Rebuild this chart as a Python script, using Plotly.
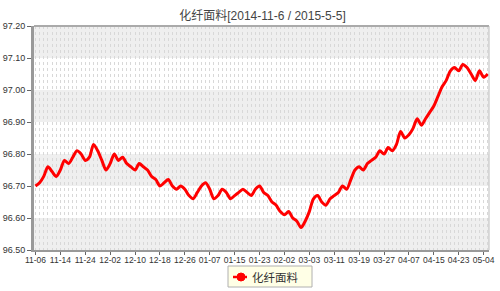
import plotly.graph_objects as go

title_text = "化纤面料[2014-11-6 / 2015-5-5]"
series_name = "化纤面料"

values = [
    96.70, 96.71, 96.73, 96.76, 96.745, 96.73, 96.75, 96.78, 96.77, 96.79,
    96.81, 96.80, 96.78, 96.79, 96.83, 96.81, 96.78, 96.75, 96.77, 96.80,
    96.78, 96.79, 96.77, 96.76, 96.75, 96.77, 96.76, 96.75, 96.73, 96.72,
    96.70, 96.71, 96.72, 96.70, 96.69, 96.70, 96.69, 96.67, 96.66, 96.68,
    96.70, 96.71, 96.69, 96.66, 96.67, 96.69, 96.68, 96.66, 96.67, 96.68,
    96.69, 96.68, 96.67, 96.69, 96.70, 96.68, 96.67, 96.65, 96.64, 96.62,
    96.61, 96.62, 96.60, 96.59, 96.57, 96.59, 96.62, 96.66, 96.67, 96.65,
    96.64, 96.66, 96.67, 96.68, 96.70, 96.69, 96.72, 96.75, 96.76, 96.75,
    96.77, 96.78, 96.79, 96.81, 96.80, 96.82, 96.81, 96.83, 96.87, 96.85,
    96.86, 96.88, 96.91, 96.89, 96.91, 96.93, 96.95, 96.98, 97.01, 97.03,
    97.06, 97.07, 97.06, 97.08, 97.07, 97.05, 97.03, 97.06, 97.04, 97.05,
]

tick_labels = ['11-06', '11-14', '11-24', '12-02', '12-10', '12-18', '12-26',
               '01-07', '01-15', '01-23', '02-02', '03-03', '03-11', '03-19',
               '03-27', '04-07', '04-15', '04-23', '05-04']
tick_step = 6

y_ticks = [96.50, 96.60, 96.70, 96.80, 96.90, 97.00, 97.10, 97.20]

x = list(range(len(values)))
tickvals = [i * tick_step for i in range(len(tick_labels))]

W, H = 500, 291
ML, MR, MT, MB = 34, 11, 26, 41
PW, PH = W - ML - MR, H - MT - MB


def px_x(p):
    return (p - ML) / PW


def px_y(p):
    return (H - MB - p) / PH


fig = go.Figure()
fig.add_trace(go.Scatter(
    x=x, y=values, mode='lines', name=series_name,
    line=dict(color='#ff0000', width=3, shape='spline', smoothing=0.8),
    showlegend=False,
))

shapes = []
for k in range(len(y_ticks) - 1):
    if k % 2 == 0:
        shapes.append(dict(type='rect', xref='paper', yref='y', x0=0, x1=1,
                           y0=y_ticks[k], y1=y_ticks[k + 1],
                           fillcolor='#efefef', line=dict(width=0), layer='below'))

# plot border (top and right)
shapes.append(dict(type='line', xref='paper', yref='paper', x0=0, x1=1, y0=1, y1=1,
                   line=dict(color='#aaaaaa', width=2)))
shapes.append(dict(type='line', xref='paper', yref='paper', x0=1, x1=1, y0=0, y1=1,
                   line=dict(color='#bbbbbb', width=1)))

# legend box
shapes.append(dict(type='rect', xref='paper', yref='paper',
                   x0=px_x(228), x1=px_x(312), y0=px_y(287), y1=px_y(266),
                   fillcolor='#ffffe6', line=dict(color='#b0b0b0', width=1)))
# legend icon: short red line + dot
shapes.append(dict(type='line', xref='paper', yref='paper',
                   x0=px_x(233), x1=px_x(247), y0=px_y(277), y1=px_y(277),
                   line=dict(color='#ff0000', width=2.5)))
shapes.append(dict(type='circle', xref='paper', yref='paper',
                   x0=px_x(237), x1=px_x(245), y0=px_y(281), y1=px_y(273),
                   fillcolor='#ff0000', line=dict(color='#ff0000', width=1)))

fig.update_layout(
    width=W, height=H,
    margin=dict(l=ML, r=MR, t=MT, b=MB, autoexpand=False),
    paper_bgcolor='white', plot_bgcolor='rgba(0,0,0,0)',
    title=dict(text=title_text, x=0.525, xanchor='center', y=0.96, yanchor='top',
               font=dict(family='Liberation Sans, Noto Sans CJK SC', size=12, color='#444')),
    font=dict(family='Liberation Sans, Noto Sans CJK SC', size=9, color='#333'),
    shapes=shapes,
    showlegend=False,
    annotations=[dict(text=series_name, xref='paper', yref='paper', x=px_x(250), y=px_y(277),
                      xanchor='left', yanchor='middle', showarrow=False,
                      font=dict(size=11.5, color='#333'))],
    xaxis=dict(range=[-0.35, len(values) - 0.7], tickmode='array', tickvals=tickvals,
               ticktext=tick_labels, tickangle=0, showgrid=True, gridcolor='#d8d8d8',
               griddash='dot', gridwidth=1, ticks='outside', ticklen=3, tickcolor='#666',
               ticklabelstandoff=-2,
               showline=True, linecolor='#999', linewidth=2, mirror=False, zeroline=False,
               minor=dict(tickmode='linear', tick0=0, dtick=1, showgrid=True,
                          gridcolor='#d8d8d8', griddash='dot', gridwidth=1),
               tickfont=dict(size=8.5, color='#333')),
    yaxis=dict(range=[96.50, 97.20], tickvals=y_ticks,
               ticktext=['%.2f' % v for v in y_ticks], showgrid=False,
               ticks='outside', ticklen=4, tickcolor='#666',
               showline=True, linecolor='#999', linewidth=3, zeroline=False,
               tickfont=dict(size=9, color='#333')),
)

fig.write_html("out.html")
